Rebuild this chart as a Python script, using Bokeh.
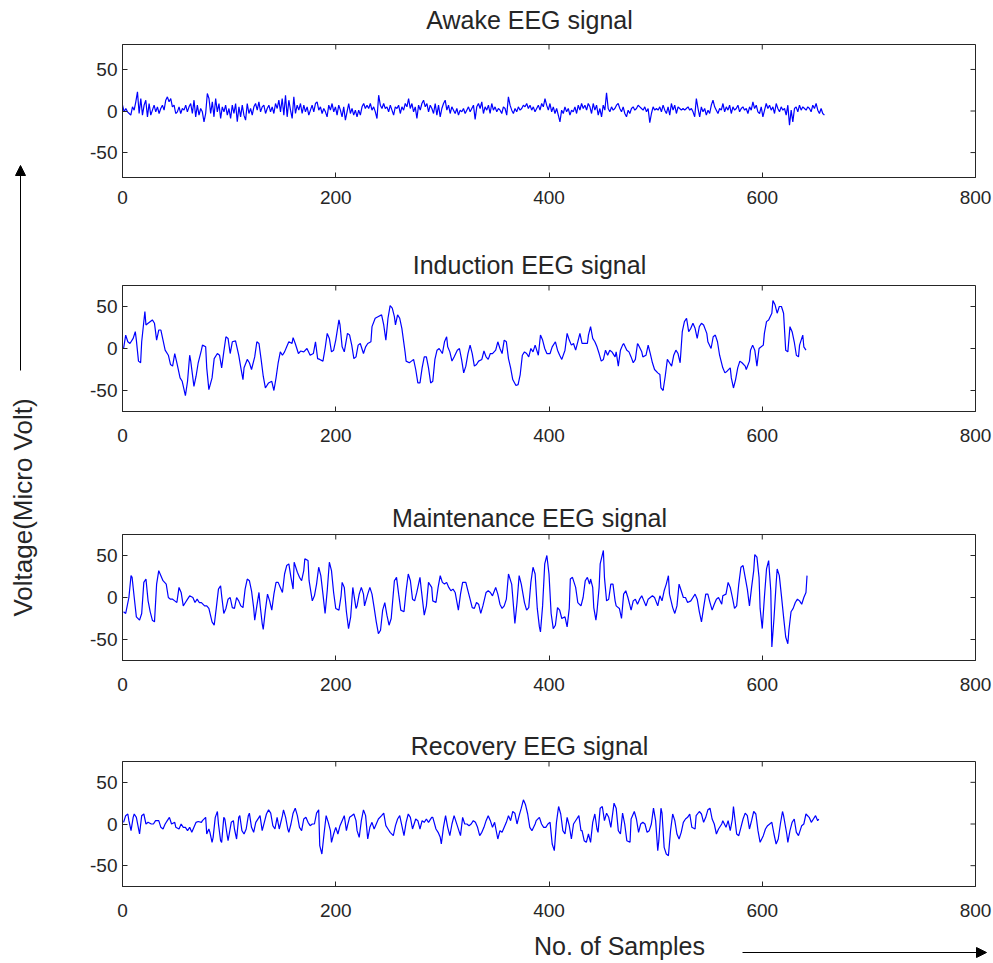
import numpy as np
from bokeh.plotting import figure
from bokeh.layouts import row, column
from bokeh.models import Range1d, FixedTicker, LinearAxis, Label, Arrow, NormalHead
from bokeh.embed import file_html
from bokeh.resources import INLINE

# ---------------- data ----------------
x_ticks = [0, 200, 400, 600, 800]
y_ticks = [-50, 0, 50]
y_tick_labels = {-50: "-50", 0: "0", 50: "50"}
titles = ["Awake EEG signal", "Induction EEG signal", "Maintenance EEG signal", "Recovery EEG signal"]
x_label = "No. of Samples"
y_label = "Voltage(Micro Volt)"

awake_step = 1.56  # samples between successive readings
awake_values = [
    7, -1, 3, -1, -3, -5, 5, 1, 11, 23, -3, 15, -5, 7, 13, -7, 9, -5, 1, 7, -1, 5, -3, 3, 7, 1, 13, 17, 11, 15,
    5, 7, -3, -1, 5, -3, 3, 1, 7, -1, 5, 9, -3, 13, -7, 7, -5, 3, -1, -13, -3, 21, 15, -3, 11, -7, 15, -1, 9, -9,
    5, -1, 7, -5, 3, -9, 7, -3, 9, -13, 5, -7, 7, -5, -11, 9, -3, 3, -5, 5, 9, 1, 11, -1, 5, 7, -3, 3, 7, -1,
    5, -3, 9, 3, 13, -1, 15, -5, 19, -7, 13, 1, -9, 17, -3, 7, 1, 9, -3, 7, -1, 5, -5, 1, 7, -1, 9, 11, 1, 5,
    -3, 3, -1, -7, 7, 1, 9, -1, 5, -5, 7, 1, -7, 5, -11, -1, 9, -3, 3, -5, 1,
    -7, 1, -5, 5, 9, 3, 7, 3, 9, 1, 5, -1, -9, 19, 7, 3, 9, 3, 5, -1, 7, 1, -5, 5, 3, 7, -3, 5, 1, 9,
    5, 15, 3, 9, -1, 5, -9, 7, 1, 9, 13, 5, 9, -1, 7, 3, -3, 9, -5, 7, -7, 3, 9, 13, 1, 7, -3, 5, 1, -3,
    3, -5, 1, -1, 3, -3, 1, 5, -1, 3, 7, -10, 5, 9, 3, 11, -3, 5, 1, 7, -3, 9, 1, 5, -1, 3, 1, -3, 5, 3,
    -5, 17, 7, 1, -3, 3, -1, 5, 1, 3, 7, 5, 9, 3, 7, 1, 5, -1, 3, 7, 1, 9, 5, 15, 7, 1, 9, -1, 5, -3,
    3, -5, -13, 1, -3, 5, -1, 3, -5, 1, -1, 5, -3, 7, 1, 9, 3, 7, 1, 9,
    5, -3, 9, 1, 7, -5, 3, -7, 7, 1, 22, 3, -1, 5, 1, 3, 7, 9, 3, -1, 5, -3, -7, 1, -3, 3, 5, 1, 3, 7,
    5, 3, 1, 5, -1, 3, -14, -3, 5, 1, 3, 1, 5, -1, 7, 1, -3, 5, -5, 9, 1, 7, -3, 5, 3, 1, 3, 1, 3, 5,
    1, 3, -1, -7, 15, 3, -7, 5, -1, 3, -5, 1, -3, 7, 13, 5, 1, -3, 3, 1, 9, -1, 5, 1, 7, -3, 5, 1, 3, 7,
    -1, 3, 5, 1, 3, -3, 5, 1, 11, 3, 7, -1, -3, 5, -7, 1, 9, 3, 7, 1, 5, -3, 9, 3, -1, 5, 1, 3, -5, 7,
    -17, 1, -13, 3, 5, -1, 7, 1, 5, 3, 1, 5, 3, -1, 7, 3, 9, 1, -3, 3, -3, -5,
]

induction_samples = [
    1, 3, 5, 7, 10, 12, 13, 15, 17, 18, 21, 22, 24, 28, 30, 32, 34, 36, 38, 40, 43, 45, 47, 49, 51, 54, 56, 59, 61, 63,
    64, 67, 69, 71, 74, 75, 78, 79, 81, 84, 86, 89, 91, 93, 95, 97, 99, 101, 103, 106, 109, 111, 113, 114, 117, 119, 121, 124, 126, 128,
    130, 132, 134, 137, 140, 142, 144, 146, 148, 150, 152, 154, 156, 159, 160, 162, 165, 167, 170, 173, 176, 179, 181, 183, 185, 188, 190, 192, 194, 196,
    198, 200, 203, 204, 206, 208, 211, 213, 215, 217,
    219, 221, 223, 226, 228, 230, 233, 234, 237, 240, 243, 245, 247, 249, 251, 253, 255, 256, 258, 260, 262, 265, 266, 269, 271, 273, 275, 277, 279, 281,
    283, 285, 287, 289, 291, 293, 295, 297, 300, 302, 304, 305, 307, 309, 311, 314, 316, 318, 320, 322, 324, 326, 328, 330, 332, 334, 337, 339, 341, 343,
    345, 347, 350, 352, 354, 356, 358, 360, 362, 364, 366, 369, 371, 373, 375, 377, 379, 381, 383, 385, 387, 390, 392, 394, 396, 398, 401, 403, 406, 408,
    410, 412, 415, 417, 419, 421, 423, 425, 427, 429, 431, 434, 436, 437,
    439, 441, 443, 445, 447, 449, 451, 453, 455, 457, 459, 462, 463, 465, 467, 469, 470, 473, 475, 477, 479, 481, 483, 484, 487, 488, 491, 493, 495, 497,
    499, 502, 504, 505, 507, 509, 511, 513, 515, 517, 519, 521, 523, 525, 527, 529, 531, 533, 535, 537, 539, 541, 543, 545, 548, 549, 552, 554, 556, 558,
    560, 563, 565, 567, 570, 571, 573, 575, 577, 579, 581, 584, 585, 588, 589, 591, 593, 595, 597, 599, 601, 602, 604, 606, 609, 610, 612, 614, 616, 618,
    620, 622, 624, 626, 628, 630, 632, 634, 635, 638, 639, 641,
]
induction_values = [
    0, 16, 8, 6, 12, 20, 10, -15, -17, 8, 44, 28, 30, 34, 30, 10, 22, 22, 10, -2, -8, -19, -21, -6, -17, -35, -39, -56, -39, -8,
    -15, -45, -33, -17, -2, 4, 2, -23, -49, -35, -12, -6, -8, -23, -4, 14, 12, -6, 8, 9, -8, -23, -37, -23, -13, -17, -25, -10, 8, 6,
    -13, -33, -47, -41, -39, -50, -35, -17, -4, -8, -4, 2, 8, 6, 13, 6, -6, -3, -4, 0, -8, -6, 8, -12, -13, -15, 0, 18, 12, -4,
    -2, 10, 34, 28, 2, -4, 18, 16, 4, -12,
    -10, 4, 6, -6, 2, 6, 8, 26, 36, 38, 40, 28, 10, 36, 51, 48, 38, 28, 40, 36, 24, -4, -15, -17, -15, -13, -25, -41, -41, -23,
    -10, -10, -23, -41, -39, -13, -2, 0, -6, 8, 14, 2, -4, -15, -10, -2, 0, -13, -29, -21, -6, 4, -6, -21, -19, -15, -13, -3, -10, -13,
    -6, -6, -2, 8, 0, -6, 10, 8, -12, -23, -37, -44, -43, -31, -8, -4, -6, -10, 0, -4, 4, -8, 16, 10, 0, -6, -6, 2, 8, -2,
    -8, -13, -2, 18, 10, 4, 6, -2, 8, 18, 6, 6, 6, 16,
    26, 12, 8, 2, -6, -15, -13, -2, -8, -2, -4, -10, -4, -21, -2, 4, 6, -2, -4, -10, -17, -13, 6, 4, -4, -10, -8, 4, -6, -17,
    -25, -29, -31, -47, -50, -33, -13, -17, -21, -8, -2, -6, -17, 20, 32, 36, 20, 24, 30, 24, 12, 26, 30, 28, 18, 8, 0, 14, 16, 8,
    -8, -23, -29, -27, -23, -35, -47, -37, -23, -15, -17, -21, -25, -15, -2, 4, -2, -21, 0, 2, 4, 18, 32, 34, 42, 57, 52, 42, 50, 50,
    42, -2, -4, 26, 20, 8, -8, -10, 4, 16, 2, -2,
]

maintenance_samples = [
    1, 3, 6, 8, 9, 11, 13, 16, 18, 20, 22, 24, 26, 28, 30, 32, 34, 36, 38, 41, 43, 45, 47, 49, 51, 53, 55, 57, 59, 61,
    63, 66, 68, 70, 72, 74, 77, 79, 81, 84, 86, 88, 90, 92, 93, 95, 97, 99, 101, 103, 105, 107, 109, 111, 113, 115, 117, 119, 121, 123,
    124, 126, 128, 129, 131, 132, 134, 136, 138, 140, 142, 144, 146, 148, 150, 152, 154, 156, 158, 160, 161, 164, 166, 168, 170, 171, 174, 175, 178, 180,
    182, 184, 186, 188, 190, 192, 194, 196, 198, 200, 203, 205, 206, 208, 210, 212, 214, 216,
    219, 220, 222, 224, 226, 227, 230, 232, 234, 236, 238, 240, 242, 244, 246, 248, 250, 252, 255, 257, 259, 261, 264, 266, 268, 270, 272, 274, 276, 279,
    280, 283, 285, 287, 290, 291, 294, 296, 298, 300, 302, 304, 306, 308, 310, 312, 315, 317, 319, 322, 324, 326, 328, 330, 332, 334, 336, 338, 341, 343,
    345, 347, 350, 352, 354, 356, 358, 360, 362, 365, 367, 368, 370, 372, 374, 377, 379, 381, 383, 385, 387, 389, 391, 392, 394, 396, 398, 400, 402, 404,
    406, 408, 410, 412, 415, 417, 419, 420, 422, 425, 427, 430, 432, 434, 436, 438,
    439, 441, 442, 444, 445, 447, 448, 451, 452, 454, 456, 458, 460, 462, 463, 466, 468, 470, 472, 474, 477, 479, 481, 483, 485, 487, 489, 491, 493, 495,
    497, 499, 502, 504, 506, 508, 510, 512, 513, 516, 518, 520, 522, 524, 526, 528, 530, 533, 535, 537, 539, 541, 543, 545, 547, 549, 551, 553, 555, 557,
    559, 562, 563, 566, 568, 570, 572, 574, 576, 578, 580, 582, 584, 586, 588, 590, 592, 593, 595, 597, 598, 600, 602, 604, 606, 608, 609, 611, 613, 614,
    616, 618, 620, 622, 624, 625, 627, 629, 631, 633, 635, 637, 639, 641, 642,
]
maintenance_values = [
    -17, -19, 0, 26, 24, 0, -23, -27, -19, 18, 22, -4, -17, -27, -29, 16, 32, 26, 20, 16, 0, -2, -2, -4, -6, 12, 6, -10, -6, -2,
    2, 0, -6, -2, -6, -6, -10, -10, -13, -29, -33, -12, 10, 14, 2, -19, -13, -2, 0, -12, -13, 0, -4, -10, -12, 10, 22, 20, 8, -12,
    -27, -10, 6, -8, -31, -38, -15, 4, -4, -15, 4, 18, 18, 12, 6, 28, 38, 40, 24, 10, 42, 30, 24, 20, 32, 46, 44, 20, -4, 2,
    16, 36, 26, 4, -19, 8, 42, 32, 6, -13, -15, 2, 18, 12, -17, -37, -23, 12,
    -13, -10, 4, 12, 4, -10, 4, 12, 4, -12, -29, -43, -39, -15, -6, -21, -33, -25, 20, 24, 4, -15, -17, 8, 28, 20, -2, -4, 6, 24,
    12, -21, -10, 18, 12, -4, -6, 12, 26, 18, 16, 18, 12, 8, 10, 6, -15, 4, 18, 18, 8, -2, -12, -13, -6, -8, -19, -10, 6, 8,
    6, 2, 12, 4, -8, -13, -10, -2, 28, 16, -15, -31, -6, 26, 16, -6, -15, -12, 18, 36, 28, -13, -35, -41, -10, 40, 50, 28, -19, -37,
    -33, -12, -15, -25, -23, -35, -13, 22, 24, 12, -6, -10, 0, 20, 24, 16,
    22, 12, -12, -27, -17, 12, 40, 56, 24, -4, -2, 16, 16, -4, -10, -13, -25, 4, 8, 0, -15, -4, -2, -8, -2, 2, -4, -10, -2, 0,
    2, 0, -10, 2, -4, 8, 16, 26, 4, -12, -19, -10, 16, 8, 0, 0, -6, -4, 0, 4, -2, -17, -29, -12, 4, 4, -6, -15, -8, -2,
    0, -8, 2, 4, 18, 12, 0, -13, -10, 16, 36, 38, 24, 10, -10, 12, 32, 51, 48, 24, -13, -37, 0, 34, 44, 8, -59, -25, 16, 34,
    26, 2, -23, -47, -55, -39, -17, -13, -6, -2, -4, -8, 0, 6, 26,
]

recovery_samples = [
    1, 3, 5, 6, 8, 10, 11, 13, 16, 18, 20, 22, 24, 27, 29, 31, 34, 36, 38, 40, 42, 44, 46, 49, 50, 53, 55, 57, 59, 61,
    63, 65, 67, 69, 71, 74, 75, 78, 79, 81, 82, 84, 85, 87, 89, 90, 92, 93, 95, 96, 98, 99, 102, 104, 105, 107, 109, 110, 112, 114,
    116, 118, 119, 121, 123, 125, 128, 129, 131, 133, 135, 137, 139, 141, 143, 145, 147, 150, 151, 153, 155, 156, 158, 160, 162, 164, 166, 168, 170, 172,
    174, 176, 178, 180, 182, 184, 185, 187, 189, 191, 193, 195, 196, 198, 200, 202, 204, 206, 208, 210, 211, 213, 215, 217,
    219, 220, 222, 224, 226, 228, 230, 232, 234, 236, 238, 240, 243, 245, 247, 249, 251, 254, 256, 258, 260, 262, 264, 266, 268, 270, 272, 275, 277, 279,
    281, 283, 285, 287, 290, 291, 294, 296, 298, 299, 301, 303, 305, 307, 309, 311, 313, 316, 317, 319, 321, 323, 325, 327, 329, 331, 333, 335, 337, 339,
    341, 343, 345, 347, 349, 352, 354, 356, 358, 360, 362, 364, 366, 368, 370, 372, 374, 376, 378, 380, 382, 384, 387, 388, 391, 393, 395, 397, 399, 401,
    403, 405, 407, 409, 411, 413, 415, 417, 419, 421, 423, 426, 428, 430, 431, 433, 435, 437,
    439, 441, 443, 445, 446, 448, 450, 452, 454, 456, 458, 461, 463, 465, 467, 469, 471, 473, 476, 477, 480, 482, 484, 486, 488, 490, 492, 494, 496, 498,
    500, 502, 503, 505, 506, 508, 510, 512, 514, 516, 518, 520, 522, 524, 526, 528, 530, 532, 534, 537, 538, 541, 543, 545, 547, 549, 551, 553, 555, 557,
    559, 562, 563, 566, 568, 570, 572, 573, 576, 578, 580, 582, 584, 586, 588, 590, 592, 594, 596, 598, 601, 603, 605, 607, 609, 611, 613, 615, 617, 619,
    620, 623, 624, 626, 628, 630, 632, 634, 637, 639, 641, 644, 646, 648, 650, 652, 653,
]
recovery_values = [
    2, 10, 12, 4, -8, 8, 12, 8, -12, 10, 12, 0, 2, 0, 0, 4, 4, -4, -6, 0, 4, 8, 0, 2, -4, -6, 0, -4, -4, -8,
    -4, -10, -4, 2, 3, 2, 4, 8, -12, -6, -10, -22, -16, 8, 15, 0, -20, -22, 8, 6, -12, -20, 2, 4, -6, -18, 8, 10, -8, -12,
    -6, 10, 13, -4, -10, 2, 8, 10, -8, 2, 12, 17, 13, -2, -6, 8, -6, 10, 17, 8, -6, -10, 0, 13, 19, 10, -4, -8, 6, 8,
    2, -2, 0, 0, 13, 17, -26, -36, -12, 10, 2, -8, -22, -12, -4, -12, -2, 4, 10, -8, -2, 8, 10, 12,
    4, -8, -16, 4, 17, 10, -18, -4, 2, -6, 0, 6, 10, 13, -2, -6, -10, -14, -2, 6, 10, -2, -14, 2, 12, 8, -6, 6, 4, -6,
    4, 2, 6, 2, 8, 8, -6, -10, -16, -24, -4, 10, -4, -14, 0, 10, 2, -10, -14, 8, 0, 0, -2, 0, 4, 2, -4, -14, -10, -4,
    4, 10, 4, -4, 2, -18, -8, -10, -4, 2, 10, 4, 15, 13, 0, 10, 19, 29, 23, 12, -4, -8, 0, 4, 8, 0, -4, -4, 0, 2,
    -24, -32, 2, 21, 12, -8, -12, 8, -2, -18, 0, 6, 10, -8, -8, -20, -22, -12,
    -22, 2, 12, -6, -10, 19, 21, 4, 13, 8, -4, 25, 19, -8, -12, 13, 0, -20, -22, 6, 15, 6, -10, 0, 2, 0, -10, -8, 0, 19,
    4, -32, -20, 19, 13, -28, -36, -38, -8, 12, 4, -12, -18, -10, 2, 6, 8, 12, -4, -6, 10, 15, 12, 2, 8, 17, 19, 6, 0, -12,
    -6, 0, 4, -4, 4, -8, 6, 21, -12, -14, -4, 6, 13, 10, -6, 4, 15, 12, -8, -22, -14, -6, -2, 0, 2, -12, -24, -18, 0, 15,
    10, -12, -22, -8, 2, 6, -10, -14, -2, 0, 12, 8, 2, 6, 10, 4, 6,
]

awake_samples = np.arange(len(awake_values)) * awake_step

# ---------------- styling ----------------
FONT = "Liberation Sans"
TXT = "#262626"
LINE = "#0000FF"
W_RIGHT = 933
BORDER_L = 62
BORDER_R = 18
FRAME_W = W_RIGHT - BORDER_L - BORDER_R
TICK_PX = 5
TITLE_CX = 529  # horizontal centre of the panel titles (canvas pixels)

panels = [
    # (title, x, y, strip height, title y in strip, panel height, bottom border, y half-range, label standoff)
    (titles[0], awake_samples, awake_values, 43, 24, 195, 61, 80, 13),
    (titles[1], induction_samples, induction_values, 46, 20, 203, 76, 75, 17),
    (titles[2], maintenance_samples, maintenance_values, 46, 16, 181, 54, 75, 17),
    (titles[3], recovery_samples, recovery_values, 46, 15, 165, 39, 75, 17),
]


def strip(width, height, x0, x1, bl=0, br=0):
    s = figure(width=width, height=height, x_range=Range1d(x0, x1), y_range=Range1d(0, height),
               output_backend="svg", toolbar_location=None, x_axis_location=None, y_axis_location=None,
               min_border_left=bl, min_border_right=br, min_border_top=0, min_border_bottom=0)
    s.grid.grid_line_color = None
    s.outline_line_color = None
    return s


def styled_axis(ticks):
    ax = LinearAxis(ticker=FixedTicker(ticks=ticks))
    ax.major_tick_in = TICK_PX
    ax.major_tick_out = 0
    ax.minor_tick_in = 0
    ax.minor_tick_out = 0
    ax.axis_line_color = TXT
    ax.major_tick_line_color = TXT
    ax.major_label_text_font = FONT
    ax.major_label_text_font_size = "19px"
    ax.major_label_text_color = TXT
    return ax


right_children = []
for (ttl, xs, ys, sh, ty, h, bot, ylim, lstand) in panels:
    # title strip: its frame spans the same canvas pixels as the panel frame
    ts = strip(W_RIGHT, sh, BORDER_L + 60, BORDER_L + 60 + FRAME_W, BORDER_L, BORDER_R)
    ts.add_layout(Label(x=TITLE_CX, y=ty, text=ttl, text_align="center", text_baseline="middle",
                        text_font=FONT, text_font_size="25px", text_color=TXT))
    right_children.append(ts)

    p = figure(width=W_RIGHT, height=h, x_range=Range1d(0, 800), y_range=Range1d(-ylim, ylim),
               output_backend="svg", toolbar_location=None,
               x_axis_location=None, y_axis_location=None,
               min_border_left=BORDER_L, min_border_right=BORDER_R, min_border_top=1, min_border_bottom=bot)
    p.grid.grid_line_color = None
    p.outline_line_color = TXT

    bx = styled_axis(x_ticks)
    bx.major_label_standoff = lstand
    p.add_layout(bx, "below")
    ly = styled_axis(y_ticks)
    ly.major_label_standoff = 5
    ly.major_label_overrides = y_tick_labels
    p.add_layout(ly, "left")

    # inward ticks on the top and right edges of the box (MATLAB style)
    frame_h = h - 1 - bot
    dy = TICK_PX * (2 * ylim) / frame_h
    dx = TICK_PX * 800 / FRAME_W
    p.segment(x0=x_ticks, y0=[ylim] * len(x_ticks), x1=x_ticks, y1=[ylim - dy] * len(x_ticks),
              line_color=TXT, line_width=1)
    p.segment(x0=[800] * len(y_ticks), y0=y_ticks, x1=[800 - dx] * len(y_ticks), y1=y_ticks,
              line_color=TXT, line_width=1)

    p.line(xs, ys, line_color=LINE, line_width=1.2)
    right_children.append(p)

# left strip with the y label and the arrow (coordinates = pixels of the strip, y from bottom)
LEFT_H = 925
left = strip(60, LEFT_H, 0, 60)
left.add_layout(Label(x=22, y=LEFT_H - 507, text=y_label, angle=np.pi / 2, text_align="center",
                      text_baseline="middle", text_font=FONT, text_font_size="26px", text_color=TXT))
left.add_layout(Arrow(end=NormalHead(size=10, fill_color="black", line_color="black"),
                      x_start=20, y_start=LEFT_H - 370, x_end=20, y_end=LEFT_H - 165,
                      line_color="black", line_width=1))

# bottom strip with the x label and the arrow
bottom = strip(993, 38, 0, 993)
bottom.add_layout(Label(x=619, y=18, text=x_label, text_align="center", text_baseline="middle",
                        text_font=FONT, text_font_size="25px", text_color=TXT))
bottom.add_layout(Arrow(end=NormalHead(size=10, fill_color="black", line_color="black"),
                        x_start=742, y_start=11, x_end=986, y_end=11, line_color="black", line_width=1))

layout = column(row(left, column(*right_children, spacing=0), spacing=0), bottom, spacing=0)

open("out.html", "w").write(file_html(layout, INLINE))
